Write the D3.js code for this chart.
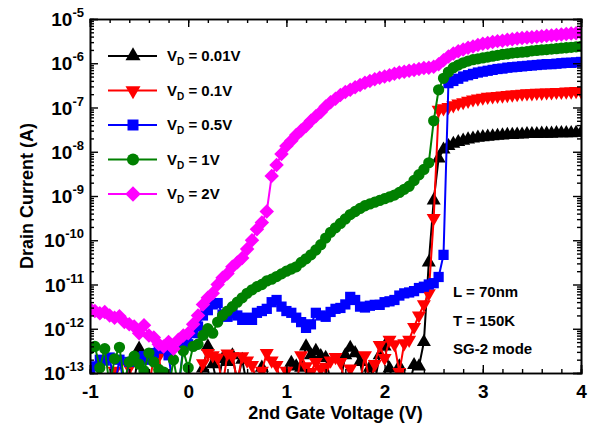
<!DOCTYPE html>
<html>
<head>
<meta charset="utf-8">
<script src="https://cdn.jsdelivr.net/npm/d3@7"></script>
<style>
  body { margin: 0; background: #fff; }
  text { font-family: "Liberation Sans", Arial, sans-serif; font-weight: bold; }
</style>
</head>
<body>
<script>
// gate voltage sweep (V)
var vg = [-1,-0.95,-0.9,-0.85,-0.8,-0.75,-0.7,-0.65,-0.6,-0.55,-0.5,-0.45,-0.4,-0.35,-0.3,-0.25,-0.2,-0.15,-0.1,-0.05,
  0,0.05,0.1,0.15,0.2,0.25,0.3,0.35,0.4,0.45,0.5,0.55,0.6,0.65,0.7,0.75,0.8,0.85,0.9,0.95,
  1,1.05,1.1,1.15,1.2,1.25,1.3,1.35,1.4,1.45,1.5,1.55,1.6,1.65,1.7,1.75,1.8,1.85,1.9,1.95,
  2,2.05,2.1,2.15,2.2,2.25,2.3,2.35,2.4,2.45,2.5,2.55,2.6,2.65,2.7,2.75,2.8,2.85,2.9,2.95,
  3,3.05,3.1,3.15,3.2,3.25,3.3,3.35,3.4,3.45,3.5,3.55,3.6,3.65,3.7,3.75,3.8,3.85,3.9,3.95,4]

// log10 of drain current (A), one array per drain voltage
var logVd001 = [-13.4,-13.3,-13.4,-13.3,-13.4,-13.3,-13.4,-13.2,-13.3,-13.2,-12.45,-13.3,-13.3,-13.4,-13.2,-13.3,-13.4,-13.3,-13.2,-13.3,
  -13.4,-13.3,-13.2,-12.9,-12.4,-12.8,-13.3,-12.68,-12.75,-12.6,-13.2,-12.7,-13.3,-13.2,-13.3,-12.88,-13.3,-13.2,-13.3,-13.4,
  -13.2,-12.77,-12.85,-12.88,-12.4,-12.6,-12.5,-12.62,-12.66,-13.2,-13.3,-13.2,-12.6,-12.43,-12.55,-12.75,-13.3,-12.88,-13.2,-12.6,
  -12.4,-12.9,-13.3,-12.85,-13.2,-13.3,-12.82,-12.85,-12.3,-10.5,-9.1,-8.15,-7.95,-7.87,-7.82,-7.78,-7.75,-7.72,-7.7,-7.68,
  -7.67,-7.66,-7.65,-7.64,-7.63,-7.62,-7.62,-7.61,-7.61,-7.6,-7.6,-7.6,-7.59,-7.59,-7.59,-7.58,-7.58,-7.58,-7.58,-7.57,-7.57]
var logVd01 = [-13.3,-13.3,-13.4,-13.3,-13.4,-12.95,-13.3,-13.2,-12.88,-13.3,-13.4,-13.2,-13.3,-12.65,-12.62,-13.3,-13.2,-13.3,-13.4,-13.2,
  -13.3,-13.2,-13.3,-12.78,-12.55,-12.6,-12.65,-13.3,-12.56,-12.62,-13.2,-12.62,-12.72,-12.82,-13.2,-12.95,-12.55,-12.72,-12.82,-13.3,
  -12.95,-13.2,-13.3,-12.6,-12.85,-12.98,-12.75,-12.9,-12.86,-12.72,-12.64,-12.75,-13.3,-12.9,-13.3,-13.2,-12.6,-13.3,-12.8,-12.37,
  -12.66,-12.25,-12.35,-12.98,-12.33,-12.25,-11.96,-11.7,-11.45,-11.2,-9.5,-7.05,-7.02,-6.99,-6.95,-6.91,-6.88,-6.85,-6.82,-6.8,
  -6.78,-6.76,-6.75,-6.74,-6.73,-6.72,-6.71,-6.7,-6.69,-6.68,-6.68,-6.67,-6.67,-6.66,-6.66,-6.65,-6.65,-6.64,-6.64,-6.63,-6.63]
var logVd05 = [-12.98,-12.85,-12.7,-12.72,-12.65,-13.3,-12.7,-13.3,-12.75,-12.7,-12.65,-12.62,-12.7,-12.55,-12.45,-12.4,-12.6,-13.4,-13.4,-12.4,
  -12.35,-12.1,-11.95,-11.7,-11.58,-11.45,-11.42,-11.68,-11.73,-11.65,-11.7,-11.8,-11.75,-11.8,-11.64,-11.6,-11.55,-11.4,-11.35,-11.5,
  -11.6,-11.64,-11.75,-11.85,-11.98,-11.9,-11.64,-11.7,-11.73,-11.62,-11.55,-11.53,-11.45,-11.28,-11.35,-11.5,-11.52,-11.48,-11.46,-11.46,
  -11.4,-11.38,-11.35,-11.25,-11.2,-11.18,-11.15,-11.08,-11.05,-11.0,-10.97,-10.83,-10.33,-6.45,-6.4,-6.35,-6.3,-6.27,-6.24,-6.21,
  -6.19,-6.17,-6.15,-6.13,-6.12,-6.1,-6.09,-6.08,-6.07,-6.06,-6.05,-6.04,-6.03,-6.02,-6.02,-6.01,-6.0,-5.99,-5.99,-5.98,-5.97]
var logVd1 = [-12.45,-12.4,-12.88,-12.45,-13.3,-12.68,-12.42,-13.2,-12.75,-12.62,-12.8,-12.95,-12.55,-12.75,-12.92,-12.98,-13.4,-12.7,-13.3,-12.5,
  -12.88,-12.4,-12.35,-12.15,-12.0,-12.1,-11.85,-11.7,-11.6,-11.5,-11.4,-11.3,-11.2,-11.12,-11.05,-11.0,-10.92,-10.88,-10.82,-10.76,
  -10.7,-10.65,-10.6,-10.5,-10.42,-10.33,-10.22,-10.1,-9.95,-9.82,-9.72,-9.62,-9.52,-9.42,-9.35,-9.28,-9.22,-9.18,-9.14,-9.1,
  -9.06,-9.02,-8.98,-8.92,-8.85,-8.78,-8.65,-8.52,-8.4,-8.25,-7.3,-6.6,-6.34,-6.2,-6.1,-6.04,-5.99,-5.95,-5.92,-5.9,
  -5.88,-5.86,-5.84,-5.82,-5.8,-5.79,-5.77,-5.76,-5.75,-5.74,-5.72,-5.71,-5.7,-5.69,-5.68,-5.67,-5.66,-5.65,-5.64,-5.63,-5.62]
var logVd2 = [-11.55,-11.6,-11.65,-11.62,-11.7,-11.75,-11.72,-11.85,-11.9,-11.95,-12.1,-11.92,-12.15,-12.2,-12.35,-12.4,-12.3,-12.45,-12.25,-12.15,
  -12.1,-11.9,-11.7,-11.45,-11.3,-11.2,-11.0,-10.85,-10.75,-10.6,-10.5,-10.4,-10.2,-10.0,-9.75,-9.6,-9.35,-8.55,-8.3,-8.05,
  -7.87,-7.75,-7.62,-7.52,-7.42,-7.3,-7.2,-7.1,-6.98,-6.88,-6.8,-6.72,-6.65,-6.6,-6.54,-6.49,-6.44,-6.4,-6.36,-6.33,
  -6.3,-6.27,-6.24,-6.21,-6.19,-6.17,-6.15,-6.13,-6.11,-6.1,-6.08,-6.02,-5.93,-5.85,-5.78,-5.73,-5.69,-5.65,-5.62,-5.59,
  -5.56,-5.54,-5.52,-5.5,-5.49,-5.47,-5.46,-5.44,-5.43,-5.42,-5.41,-5.4,-5.39,-5.38,-5.37,-5.36,-5.35,-5.34,-5.33,-5.32,-5.31]

var seriesNames = ["0.01V", "0.1V", "0.5V", "1V", "2V"]
var seriesColors = ["#000000", "#ff0000", "#0000ff", "#008000", "#ff00ff"]
var seriesSymbols = ["up", "down", "square", "circle", "diamond"]
var seriesData = [logVd001, logVd01, logVd05, logVd1, logVd2]

var xTicks = [-1, 0, 1, 2, 3, 4]
var yTickExp = [-13, -12, -11, -10, -9, -8, -7, -6, -5]
var notes = ["L = 70nm", "T = 150K", "SG-2 mode"]

var W = 591, H = 432
var pL = 90, pR = 581, pT = 19, pB = 373

var svg = d3.select("body").append("svg").attr("width", W).attr("height", H)

var x = d3.scaleLinear().domain([-1, 4]).range([pL, pR])
var y = d3.scaleLog().domain([1e-13, 1e-5]).range([pB, pT])

svg.append("clipPath").attr("id", "plotclip")
  .append("rect").attr("x", pL).attr("y", pT).attr("width", pR - pL).attr("height", pB - pT)

function markerPath(sym, size) {
  if (sym === "up" || sym === "down") return d3.symbol().type(d3.symbolTriangle).size(size)()
  if (sym === "square" || sym === "diamond") return d3.symbol().type(d3.symbolSquare).size(size)()
  return d3.symbol().type(d3.symbolCircle).size(size)()
}
function markerRot(sym) {
  if (sym === "down") return " rotate(180)"
  if (sym === "diamond") return " rotate(45)"
  return ""
}
function markerSize(i) {
  return [85, 85, 105, 100, 105][i]
}

var plot = svg.append("g").attr("clip-path", "url(#plotclip)")

seriesData.forEach(function (arr, i) {
  var pts = vg.map(function (v, k) { return [v, Math.pow(10, arr[k])] })
  var line = d3.line().x(function (d) { return x(d[0]) }).y(function (d) { return y(d[1]) })
  var g = plot.append("g")
  g.append("path").attr("d", line(pts)).attr("fill", "none")
    .attr("stroke", seriesColors[i]).attr("stroke-width", 2)
  g.selectAll("path.m").data(pts).enter().append("path")
    .attr("class", "m")
    .attr("d", markerPath(seriesSymbols[i], markerSize(i)))
    .attr("transform", function (d) {
      return "translate(" + x(d[0]) + "," + y(d[1]) + ")" + markerRot(seriesSymbols[i])
    })
    .attr("fill", seriesColors[i])
})

// axes with inward ticks
var xMinor = d3.range(-1, 4.001, 0.2)
var axB = svg.append("g").attr("transform", "translate(0," + pB + ")")
  .call(d3.axisBottom(x).tickValues(xMinor).tickSize(-4).tickFormat(""))
var axB2 = svg.append("g").attr("transform", "translate(0," + pB + ")")
  .call(d3.axisBottom(x).tickValues(xTicks).tickSize(-8).tickPadding(12).tickFormat(function (d) { return String(d) }))
var axT = svg.append("g").attr("transform", "translate(0," + pT + ")")
  .call(d3.axisTop(x).tickValues(xMinor).tickSize(-4).tickFormat(""))
var axT2 = svg.append("g").attr("transform", "translate(0," + pT + ")")
  .call(d3.axisTop(x).tickValues(xTicks).tickSize(-8).tickFormat(""))

var yMinor = []
yTickExp.forEach(function (e) {
  if (e < -5) for (var m = 2; m < 10; m++) yMinor.push(m * Math.pow(10, e))
})
var yMajor = yTickExp.map(function (e) { return Math.pow(10, e) })
var axL = svg.append("g").attr("transform", "translate(" + pL + ",0)")
  .call(d3.axisLeft(y).tickValues(yMinor).tickSize(-4).tickFormat(""))
var axL2 = svg.append("g").attr("transform", "translate(" + pL + ",0)")
  .call(d3.axisLeft(y).tickValues(yMajor).tickSize(-8).tickFormat(""))
var axR = svg.append("g").attr("transform", "translate(" + pR + ",0)")
  .call(d3.axisRight(y).tickValues(yMinor).tickSize(-4).tickFormat(""))
var axR2 = svg.append("g").attr("transform", "translate(" + pR + ",0)")
  .call(d3.axisRight(y).tickValues(yMajor).tickSize(-8).tickFormat(""))

svg.selectAll(".domain").attr("stroke", "#000").attr("stroke-width", 1.6)
svg.selectAll(".tick line").attr("stroke", "#000").attr("stroke-width", 1.4)
axB2.selectAll(".tick text").attr("font-size", 19).attr("font-weight", "bold")
  .attr("font-family", "Liberation Sans, Arial, sans-serif").attr("fill", "#000")

// y tick labels 10^n
yTickExp.forEach(function (e) {
  var t = svg.append("text").attr("x", 84).attr("y", y(Math.pow(10, e)) + 7)
    .attr("text-anchor", "end").attr("font-size", 19)
  t.append("tspan").text("10")
  t.append("tspan").attr("font-size", 13).attr("dy", -9).text(e)
})

// axis titles
svg.append("text").attr("x", (pL + pR) / 2).attr("y", 419)
  .attr("text-anchor", "middle").attr("font-size", 18).text("2nd Gate Voltage (V)")
svg.append("text").attr("transform", "translate(33," + 196 + ") rotate(-90)")
  .attr("text-anchor", "middle").attr("font-size", 18).text("Drain Current (A)")

// legend
seriesNames.forEach(function (name, i) {
  var ly = 56 + i * 34.5
  svg.append("line").attr("x1", 108).attr("x2", 157).attr("y1", ly).attr("y2", ly)
    .attr("stroke", seriesColors[i]).attr("stroke-width", 2)
  svg.append("path").attr("d", markerPath(seriesSymbols[i], markerSize(i) * 1.15))
    .attr("transform", "translate(133," + ly + ")" + markerRot(seriesSymbols[i]))
    .attr("fill", seriesColors[i])
  var t = svg.append("text").attr("x", 167).attr("y", ly + 5).attr("font-size", 15)
  t.append("tspan").text("V")
  t.append("tspan").attr("font-size", 10).attr("dy", 4).text("D")
  t.append("tspan").attr("dy", -4).text(" = " + name)
})

// annotations
notes.forEach(function (s, i) {
  svg.append("text").attr("x", 453).attr("y", 297 + i * 28.5).attr("font-size", 15).text(s)
})
</script>
</body>
</html>
